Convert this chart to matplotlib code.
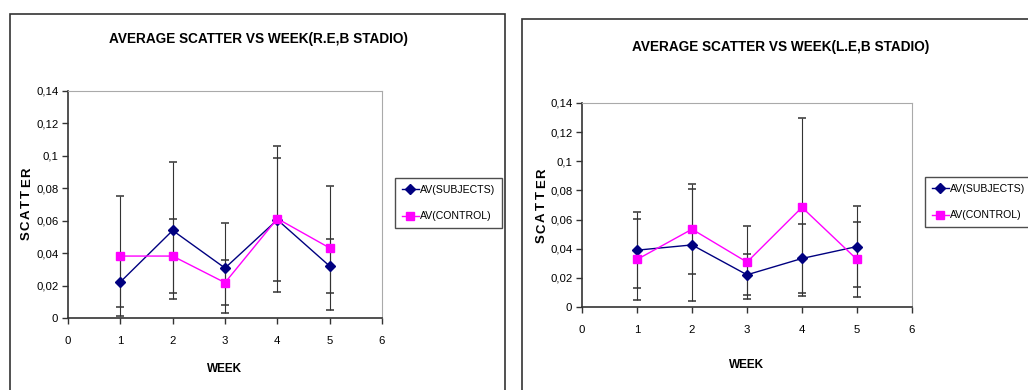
import matplotlib
matplotlib.use("Agg")
import matplotlib.pyplot as plt
from matplotlib.patches import Rectangle

plt.rcParams['font.family'] = ['Liberation Sans', 'DejaVu Sans']

weeks = [1, 2, 3, 4, 5]

# right eye
re_subjects = [0.0222, 0.054, 0.0308, 0.0606, 0.032]
re_subjects_err = [0.0154, 0.042, 0.0275, 0.038, 0.0166]
re_control = [0.0382, 0.0382, 0.0218, 0.0613, 0.0432]
re_control_err = [0.037, 0.023, 0.0138, 0.045, 0.0385]

# left eye
le_subjects = [0.039, 0.0426, 0.0221, 0.0333, 0.0415]
le_subjects_err = [0.026, 0.0386, 0.014, 0.0235, 0.028]
le_control = [0.0326, 0.0534, 0.0308, 0.0684, 0.0326]
le_control_err = [0.028, 0.031, 0.025, 0.061, 0.026]

y_ticks = [0, 0.02, 0.04, 0.06, 0.08, 0.1, 0.12, 0.14]
y_tick_labels = ['0', '0,02', '0,04', '0,06', '0,08', '0,1', '0,12', '0,14']
x_ticks = [0, 1, 2, 3, 4, 5, 6]

W, H = 1028, 390
fig = plt.figure(figsize=(W / 100, H / 100), dpi=100)


def px_box(x0, y0, x1, y1):
    return [x0 / W, 1 - y1 / H, (x1 - x0) / W, (y1 - y0) / H]


def spaced_ylabel(word, x, y_center, step):
    # letters stacked bottom-to-top, rotated like an Excel axis title
    n = len(word)
    for i, ch in enumerate(word):
        y = y_center + (n - 1) / 2 * step - i * step
        fig.text(x / W, 1 - y / H, ch, ha='center', va='center', rotation=90,
                 fontsize=9.5, fontweight='bold')


def draw_panel(ax_box, frame, title, title_xy, ylab_xy, ylab_step, xlab_xy, leg_xy,
               subj, subj_err, ctrl, ctrl_err):
    fig.patches.append(Rectangle((frame[0] / W, 1 - frame[3] / H),
                                 (frame[2] - frame[0]) / W, (frame[3] - frame[1]) / H,
                                 transform=fig.transFigure, fill=False,
                                 edgecolor='#333333', linewidth=1.2))
    ax = fig.add_axes(px_box(*ax_box))
    ax.errorbar(weeks, subj, yerr=subj_err, fmt='none', ecolor='#333333',
                elinewidth=0.8, capsize=3, capthick=1.1, zorder=2)
    ax.errorbar(weeks, ctrl, yerr=ctrl_err, fmt='none', ecolor='#333333',
                elinewidth=0.8, capsize=3, capthick=1.1, zorder=2)
    ax.plot(weeks, subj, color='#000080', marker='D', markersize=5,
            linewidth=1.0, label='AV(SUBJECTS)', zorder=3)
    ax.plot(weeks, ctrl, color='#FF00FF', marker='s', markersize=5.5,
            linewidth=1.0, label='AV(CONTROL)', zorder=4)
    ax.set_xlim(0, 6)
    ax.set_ylim(0, 0.14)
    ax.set_xticks(x_ticks)
    ax.set_yticks(y_ticks)
    ax.set_yticklabels(y_tick_labels)
    ax.tick_params(labelsize=8.2, length=4, width=1, color='#333333')
    ax.tick_params(axis='x', pad=9)
    ax.tick_params(axis='y', pad=3)
    for s in ['top', 'right']:
        ax.spines[s].set_color('#aaaaaa')
        ax.spines[s].set_linewidth(0.8)
    for s in ['left', 'bottom']:
        ax.spines[s].set_color('#333333')
        ax.spines[s].set_linewidth(1.2)
    fig.text(title_xy[0] / W, 1 - title_xy[1] / H, title, ha='center', va='center',
             fontsize=9.8, fontweight='bold')
    spaced_ylabel('SCATTER', ylab_xy[0], ylab_xy[1], ylab_step)
    fig.text(xlab_xy[0] / W, 1 - xlab_xy[1] / H, 'WEEK', ha='center', va='center',
             fontsize=8.5, fontweight='bold')
    leg = ax.legend(loc='upper left', bbox_to_anchor=(leg_xy[0] / W, 1 - leg_xy[1] / H),
                    bbox_transform=fig.transFigure, fontsize=7.6, frameon=True,
                    fancybox=False, edgecolor='#222222', handlelength=1.6,
                    handletextpad=0.15, borderpad=0.65, labelspacing=1.55,
                    borderaxespad=0)
    leg.get_frame().set_linewidth(1.0)
    return ax


draw_panel((68, 91, 382, 318), (10, 14, 505, 400),
           'AVERAGE SCATTER VS WEEK(R.E,B STADIO)', (258, 39), (27, 204), 10.5, (225, 369),
           (395, 178), re_subjects, re_subjects_err, re_control, re_control_err)
draw_panel((582, 103, 912, 307), (522, 19, 1040, 400),
           'AVERAGE SCATTER VS WEEK(L.E,B STADIO)', (781, 47), (542, 206), 11, (747, 365),
           (925, 177), le_subjects, le_subjects_err, le_control, le_control_err)

fig.savefig('out.png', dpi=100)
